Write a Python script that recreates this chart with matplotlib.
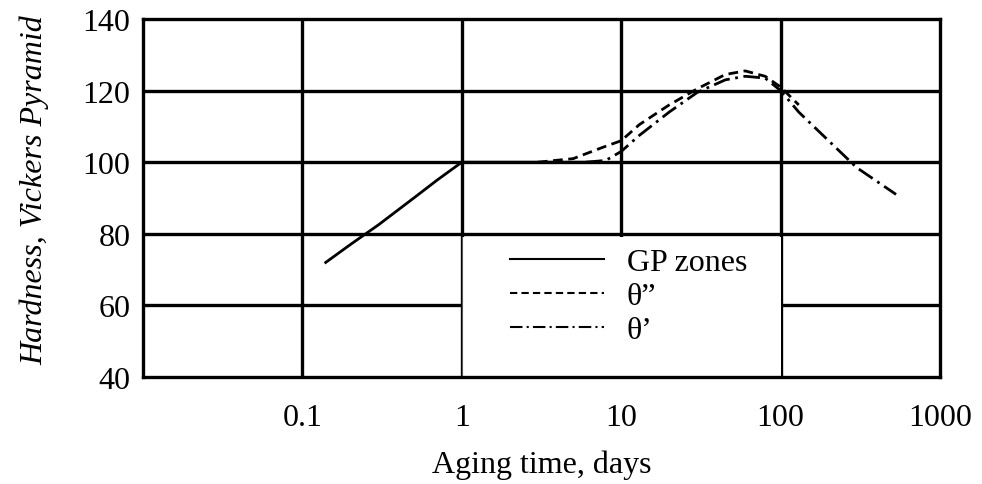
import matplotlib
matplotlib.use("Agg")
import matplotlib.pyplot as plt
from matplotlib.patches import Rectangle
from matplotlib.ticker import FixedLocator, FixedFormatter, NullLocator

# ---- data ----
gp_x = [0.14, 0.2, 0.3, 0.5, 0.7, 1.0, 2.0, 4.0, 7.0]
gp_y = [72, 77, 82.5, 90, 95, 100, 100, 100, 100]

th2_x = [3.0, 5.0, 7.5, 10, 13, 20, 30, 45, 60, 80, 100, 130]
th2_y = [100, 101, 104, 106, 110.5, 116, 120.5, 124.5, 125.5, 124, 121, 116]

th1_x = [6.0, 8.0, 10, 13, 20, 30, 45, 60, 80, 100, 130, 200, 300, 530]
th1_y = [100, 100.5, 103, 107.5, 114, 119.5, 123, 124, 123.5, 120, 114, 106, 98.5, 91]

x_ticks = [0.1, 1, 10, 100, 1000]
x_tick_labels = ["0.1", "1", "10", "100", "1000"]
y_ticks = [40, 60, 80, 100, 120, 140]
y_tick_labels = ["40", "60", "80", "100", "120", "140"]
x_grid = [0.1, 1, 10, 100]
y_grid = [60, 80, 100, 120]

labels = ["GP zones", "\u03b8\u201d", "\u03b8\u2019"]

plt.rcParams['font.family'] = ['Liberation Serif', 'DejaVu Serif']
FS = 23

fig = plt.figure(figsize=(9.82, 4.85), dpi=100)
ax = fig.add_axes([143/982, (485-378)/485, (940-143)/982, (378-20)/485])
ax.set_xscale('log')
ax.set_xlim(0.01, 1000)
ax.set_ylim(40, 140)

for gx in x_grid:
    ax.axvline(gx, color='black', lw=2.4, zorder=1)
for gy in y_grid:
    ax.axhline(gy, color='black', lw=2.4, zorder=1)

# white legend area covering the grid
ax.add_patch(Rectangle((1, 40), 99, 39.2, facecolor='white', edgecolor='none', zorder=2))
ax.plot([1, 1], [40, 79.2], color='#555555', lw=0.8, zorder=3)

l1, = ax.plot(gp_x, gp_y, color='black', lw=2.0, zorder=4, label=labels[0])
l2, = ax.plot(th2_x, th2_y, color='black', lw=2.0, zorder=4, label=labels[1],
              linestyle=(0, (3.5, 2)))
l3, = ax.plot(th1_x, th1_y, color='black', lw=2.0, zorder=4, label=labels[2],
              linestyle=(0, (6, 2, 1, 2)))

for s in ax.spines.values():
    s.set_linewidth(2.4)
    s.set_zorder(5)

ax.xaxis.set_major_locator(FixedLocator(x_ticks))
ax.xaxis.set_major_formatter(FixedFormatter(x_tick_labels))
ax.xaxis.set_minor_locator(NullLocator())
ax.yaxis.set_major_locator(FixedLocator(y_ticks))
ax.yaxis.set_major_formatter(FixedFormatter(y_tick_labels))
ax.tick_params(axis='both', length=0, labelsize=FS)
ax.tick_params(axis='x', pad=19)
ax.tick_params(axis='y', pad=9)

ax.set_xlabel("Aging time, days", fontsize=FS, labelpad=12)
ax.set_ylabel("Hardness, Vickers Pyramid", fontsize=FS, style='italic', labelpad=24)
ax.yaxis.label.set_y(0.525)

leg = ax.legend(handles=[l1, l2, l3], loc='upper left',
                bbox_to_anchor=((510-143)/797, (378-249)/358),
                frameon=False, fontsize=FS, handlelength=2.95,
                handletextpad=0.7, labelspacing=0.14,
                borderpad=0, borderaxespad=0)
for line in leg.get_lines():
    line.set_linewidth(1.5)

fig.savefig("out.png", dpi=100)
